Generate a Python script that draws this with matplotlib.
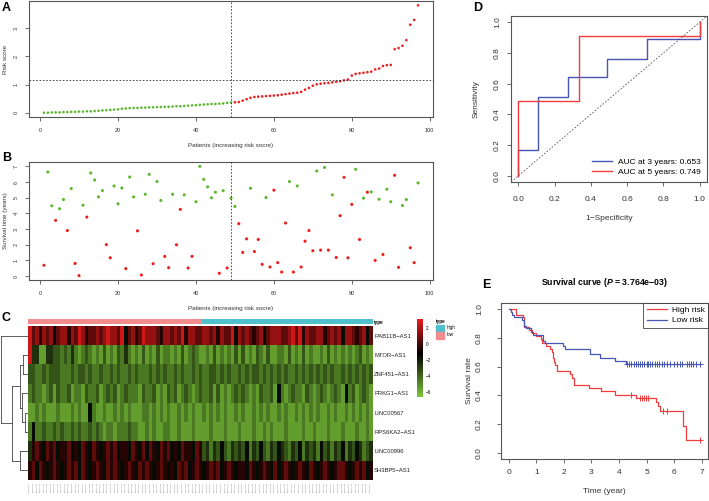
import numpy as np
import matplotlib
matplotlib.use('Agg')
import matplotlib.pyplot as plt
from matplotlib.colors import LinearSegmentedColormap, ListedColormap

plt.rcParams['font.family'] = ['Liberation Sans', 'DejaVu Sans']
plt.rcParams['mathtext.fontset'] = 'custom'
plt.rcParams['mathtext.rm'] = 'Liberation Sans'
plt.rcParams['mathtext.it'] = 'Liberation Sans:italic'
plt.rcParams['mathtext.bf'] = 'Liberation Sans:bold'
plt.rcParams['mathtext.bfit'] = 'Liberation Sans:bold:italic'

# ---- A: risk score (sorted) ----
risk_low = [0.00, 0.00, 0.01, 0.01, 0.01, 0.02, 0.02, 0.03, 0.03, 0.04,
            0.04, 0.05, 0.05, 0.06, 0.07, 0.08, 0.09, 0.10, 0.11, 0.12,
            0.14, 0.15, 0.16, 0.17, 0.17, 0.18, 0.18, 0.19, 0.19, 0.20,
            0.20, 0.21, 0.21, 0.22, 0.23, 0.23, 0.24, 0.25, 0.26, 0.27,
            0.28, 0.29, 0.30, 0.31, 0.31, 0.32, 0.33, 0.35, 0.36]
risk_high = [0.37, 0.38, 0.43, 0.48, 0.53, 0.56, 0.57, 0.58, 0.59, 0.60,
             0.61, 0.62, 0.64, 0.66, 0.68, 0.70, 0.71, 0.74, 0.82, 0.88,
             0.96, 1.01, 1.03, 1.05, 1.06, 1.08, 1.10, 1.12, 1.15, 1.18,
             1.32, 1.38, 1.40, 1.42, 1.44, 1.46, 1.54, 1.57, 1.66, 1.69,
             1.70, 2.26, 2.30, 2.38, 2.58, 3.13, 3.30, 3.82]
risk_hline = 1.15

# ---- B: survival time and status (1 = dead) ----
surv_time = [0.68, 6.64, 4.48, 3.55, 4.29, 4.88, 2.90, 5.58, 0.80, 0.02,
             4.52, 3.76, 6.58, 6.13, 5.05, 5.45, 2.00, 1.16, 5.75, 4.61,
             5.62, 0.47, 6.32, 5.05, 2.88, 0.06, 5.22, 6.49, 0.78, 6.03,
             4.82, 1.25, 0.53, 5.22, 1.99, 4.25, 5.18, 0.51, 1.25, 4.74,
             7.00, 6.17, 5.69, 4.99, 5.35, 0.17, 5.45, 0.51, 4.97, 4.44,
             3.34, 1.50, 2.37, 5.60, 1.56, 2.33, 0.74, 5.01, 0.57, 5.48,
             0.85, 0.25, 3.38, 6.03, 0.25, 5.75, 0.57, 2.22, 2.90, 1.61,
             6.70, 1.65, 6.93, 1.65, 5.18, 1.18, 3.85, 6.30, 1.16, 4.57,
             6.81, 2.33, 4.97, 5.35, 5.37, 0.99, 4.90, 1.37, 5.54, 4.74,
             6.43, 0.55, 4.50, 4.88, 1.80, 0.85, 5.94]
surv_status = [1, 0, 0, 1, 0, 0, 1, 0, 1, 1,
               0, 1, 0, 0, 0, 0, 1, 1, 0, 0,
               0, 1, 0, 0, 1, 1, 0, 0, 1, 0,
               0, 1, 1, 0, 1, 1, 0, 1, 1, 0,
               0, 0, 0, 0, 0, 1, 0, 1, 0, 0,
               1, 1, 1, 0, 1, 1, 1, 0, 1, 1,
               1, 1, 1, 0, 1, 0, 1, 1, 1, 1,
               0, 1, 0, 1, 0, 1, 1, 1, 1, 1,
               0, 1, 0, 1, 0, 1, 0, 1, 0, 0,
               1, 1, 0, 0, 1, 1, 0]

# ---- C: heatmap (digit d -> expression -6.5 + d) ----
genes = ['RAB11B−AS1', 'MTOR−AS1', 'ZNF451−AS1', 'PRKG1−AS1',
         'LINC00567', 'RPS6KA2−AS1', 'LINC00996', 'SH3BP5−AS1']
expr_rows = [
    '9786878578868798677878988795786798887688787968877887868779587876785788877897968778867878588767857',
    '9441144332324212321213121324212131213122121312321121312121313121321311221312131211213121212123121',
    '3322323332223233232232232322323222323232232322323223323232232323323232323223232323232322323232323',
    '2322123132231221322312323123222132231213231232123223131212323212132231521232213212321232152312321',
    '1121211121112121152112112121211122121212112121211212121211212112121211212112121212112121121212121',
    '2522322323223232232321221222322112121122112111211112111211121112112121112111121121112111211121121',
    '4676576756675657657656767566576575765767565766576342435324343524353243543243524342534243524354234',
    '6757656765676757656765767656765767656765657675676567675676566576567657567656765765676567765676756',
]
group = ['low'] * 49 + ['high'] * 48
# dendrogram merges (left id, right id, height); leaves 0-7, new nodes 8..
merges = [(1, 2, 4.7), (4, 5, 3.0), (3, 9, 6.3), (8, 10, 8.0),
          (6, 7, 8.0), (11, 12, 16.0), (0, 13, 27.0)]

# ---- D: ROC vertices ----
roc3_fp = [0.0, 0.0, 0.107, 0.107, 0.276, 0.276, 0.49, 0.49, 0.709, 0.709, 1.0, 1.0]
roc3_tp = [0.0, 0.17, 0.17, 0.514, 0.514, 0.644, 0.644, 0.76, 0.76, 0.888, 0.888, 1.0]
roc5_fp = [0.0, 0.0, 0.333, 0.333, 1.0, 1.0]
roc5_tp = [0.0, 0.486, 0.486, 0.907, 0.907, 1.0]

# ---- E: Kaplan-Meier steps ----
km_high_t = [0, 0.27, 0.52, 0.57, 0.74, 0.85, 0.99, 1.16, 1.22, 1.37, 1.50, 1.56, 1.61, 1.65,
             1.69, 1.75, 2.22, 2.30, 2.36, 2.90, 3.36, 3.85, 4.60, 5.33, 5.40, 5.48, 6.32, 6.42]
km_high_s = [1.0, 0.958, 0.94, 0.875, 0.854, 0.833, 0.81, 0.79, 0.76, 0.74, 0.72, 0.70, 0.66, 0.63,
             0.61, 0.57, 0.55, 0.52, 0.47, 0.45, 0.43, 0.40, 0.38, 0.355, 0.33, 0.29, 0.19, 0.095]
cens_high = [4.45, 4.75, 4.85, 4.92, 4.98, 5.05, 5.6, 5.75, 6.95]
km_low_t = [0, 0.07, 0.13, 0.2, 0.5, 0.57, 0.63, 0.82, 0.88, 1.24, 1.3, 1.97, 2.05, 2.95, 3.3, 3.85, 4.25]
km_low_s = [1.0, 0.98, 0.96, 0.94, 0.92, 0.88, 0.865, 0.84, 0.82, 0.78, 0.76, 0.74, 0.72, 0.69, 0.66, 0.64, 0.62]
cens_low = [4.3, 4.38, 4.45, 4.55, 4.62, 4.7, 4.78, 4.85, 4.92, 5.0, 5.05, 5.12, 5.2, 5.3, 5.38,
            5.45, 5.55, 5.65, 5.75, 5.85, 6.0, 6.1, 6.2, 6.3, 6.45, 6.55, 6.62, 6.7, 6.8, 6.95]

GREEN = '#5cb82e'
RED = '#ee1c1c'
W, H = 709, 501
fig = plt.figure(figsize=(W / 100, H / 100), dpi=100)


def px_axes(x0, y0, x1, y1):
    return fig.add_axes([x0 / W, 1 - y1 / H, (x1 - x0) / W, (y1 - y0) / H])


def r_style(ax, fs, xpad, ypad, tl=3.0):
    for s in ax.spines.values():
        s.set_color('#555555')
        s.set_linewidth(0.8)
    ax.tick_params(direction='out', length=tl, width=0.6, colors='#555555',
                   labelsize=fs, labelcolor='#333333')
    ax.tick_params(axis='x', pad=xpad)
    ax.tick_params(axis='y', pad=ypad)


# ---------- A ----------
risk = risk_low + risk_high
n = len(risk)
pid = np.arange(1, n + 1)
nlow = len(risk_low)
colors = [GREEN] * nlow + [RED] * (n - nlow)
axA = px_axes(29, 1, 433, 117)
axA.scatter(pid, risk, s=3.5, c=colors, linewidths=0)
axA.axvline(nlow, color='#333333', ls=(0, (2, 2)), lw=0.6)
axA.axhline(risk_hline, color='#333333', ls=(0, (2, 2)), lw=0.6)
axA.set_xlim(1 - 0.04 * (n - 1), n + 0.04 * (n - 1))
axA.set_ylim(-0.04 * max(risk), 1.04 * max(risk))
axA.set_xticks([0, 20, 40, 60, 80, 100])
axA.set_yticks([0, 1, 2, 3])
axA.set_yticklabels(['0', '1', '2', '3'], rotation=90, va='center')
r_style(axA, 4.0, 5, 4.5)
axA.set_xlabel('Patients (increasing risk socre)', fontsize=4.5, labelpad=7, color='#333333')
axA.set_ylabel('Risk score', fontsize=4.5, labelpad=4, color='#333333')

# ---------- B ----------
axB = px_axes(29, 162, 433, 280)
st = np.array(surv_status)
axB.scatter(pid, surv_time, s=5, c=[RED if v else GREEN for v in st], linewidths=0)
axB.axvline(nlow, color='#333333', ls=(0, (2, 2)), lw=0.6)
tmin, tmax = min(surv_time), max(surv_time)
pad = 0.04 * (tmax - tmin)
axB.set_xlim(1 - 0.04 * (n - 1), n + 0.04 * (n - 1))
axB.set_ylim(tmin - pad, tmax + pad)
axB.set_xticks([0, 20, 40, 60, 80, 100])
axB.set_yticks(range(8))
axB.set_yticklabels([str(i) for i in range(8)], rotation=90, va='center')
r_style(axB, 4.0, 5, 4.5)
axB.set_xlabel('Patients (increasing risk socre)', fontsize=4.5, labelpad=7, color='#333333')
axB.set_ylabel('Survival time (years)', fontsize=4.5, labelpad=4, color='#333333')

# ---------- C ----------
mat = np.array([[int(c) - 6.5 for c in row] for row in expr_rows])
vmin, vmax, vmid = -6.6, 3.1, -1.2
f = (vmid - vmin) / (vmax - vmin)
cmap = LinearSegmentedColormap.from_list('gbr', [(0, '#7cc63a'), (f, '#000000'), (1, '#ee1c1c')])
axC = px_axes(28, 326, 372, 480)
axC.imshow(mat, aspect='auto', cmap=cmap, vmin=vmin, vmax=vmax, interpolation='nearest')
axC.set_yticks(range(len(genes)))
axC.set_yticklabels(genes, fontsize=4.2, color='#222222')
axC.yaxis.tick_right()
axC.set_xticks(range(mat.shape[1]))
axC.set_xticklabels(['TCGA%03d' % (i + 1) for i in range(mat.shape[1])],
                    rotation=90, fontsize=1.6, color='#777777')
axC.tick_params(length=0, pad=1.5)
for s in axC.spines.values():
    s.set_visible(False)

axT = px_axes(28, 319, 372, 324.5)
gcode = np.array([[0 if g == 'low' else 1 for g in group]])
PINK, CYAN = '#f28c8c', '#4fc0cc'
axT.imshow(gcode, aspect='auto', cmap=ListedColormap([PINK, CYAN]), interpolation='nearest')
axT.set_xticks([])
axT.set_yticks([0])
axT.set_yticklabels(['type'], fontsize=3.3, fontweight='bold')
axT.yaxis.tick_right()
axT.tick_params(length=0, pad=1.5)
for s in axT.spines.values():
    s.set_visible(False)

# dendrogram
axD0 = px_axes(0, 326, 28, 480)
pos = {i: float(i) for i in range(len(genes))}
hgt = {i: 0.0 for i in range(len(genes))}
for k, (a, b, h) in enumerate(merges):
    node = len(genes) + k
    for c in (a, b):
        axD0.plot([hgt[c], h], [pos[c], pos[c]], color='#444444', lw=0.6)
    axD0.plot([h, h], [pos[a], pos[b]], color='#444444', lw=0.6)
    pos[node] = (pos[a] + pos[b]) / 2
    hgt[node] = h
axD0.set_ylim(len(genes) - 0.5, -0.5)
axD0.set_xlim(max(m[2] for m in merges) * 1.04, 0)
axD0.axis('off')

# colorbar
axCB = px_axes(417, 319, 423, 397)
grad = np.linspace(vmax, vmin, 200).reshape(-1, 1)
axCB.imshow(grad, aspect='auto', cmap=cmap, vmin=vmin, vmax=vmax,
            extent=[0, 1, vmin, vmax])
axCB.set_xticks([])
axCB.yaxis.tick_right()
axCB.set_yticks([2, 0, -2, -4, -6])
axCB.set_yticklabels(['2', '0', '−2', '−4', '−6'], fontsize=3.3)
axCB.tick_params(length=0, pad=2)
for s in axCB.spines.values():
    s.set_visible(False)

fig.text(436 / W, 1 - 321 / H, 'type', fontsize=3.3, fontweight='bold', va='center')
for i, (lab, colr) in enumerate([('high', CYAN), ('low', PINK)]):
    y0 = 324.5 + i * 7
    fig.patches.append(plt.Rectangle((436 / W, 1 - (y0 + 7) / H), 8 / W, 7 / H,
                                     color=colr, transform=fig.transFigure))
    fig.text(447 / W, 1 - (y0 + 3.5) / H, lab, fontsize=3.3, va='center')

# ---------- D ----------
ticks = [0.0, 0.2, 0.4, 0.6, 0.8, 1.0]
axDD = px_axes(511, 16, 707, 182)
axDD.plot(roc3_fp, roc3_tp, color='#4556b4', lw=1.0, label='AUC at 3 years: 0.653')
axDD.plot(roc5_fp, roc5_tp, color='#f03c3c', lw=1.0, label='AUC at 5 years: 0.749')
axDD.axline((0, 0), (1, 1), color='#555555', ls=(0, (2, 2)), lw=0.6)
axDD.set_xlim(-0.04, 1.04)
axDD.set_ylim(-0.04, 1.04)
axDD.set_xticks(ticks)
axDD.set_xticklabels(['%.1f' % t for t in ticks])
axDD.set_yticks(ticks)
axDD.set_yticklabels(['%.1f' % t for t in ticks], rotation=90, va='center')
r_style(axDD, 6.0, 7, 4.2)
axDD.set_xlabel('1−Specificity', fontsize=6.0, labelpad=8.5, color='#333333')
axDD.set_ylabel('Sensitivity', fontsize=6.0, labelpad=10, color='#333333')
axDD.legend(loc='lower right', frameon=False, fontsize=6.0, handlelength=2.4,
            handletextpad=0.8, borderaxespad=0.3, labelspacing=0.25)

# ---------- E ----------
axE = px_axes(501, 303, 708, 459)
tend = max(cens_low + cens_high)
for t, s, cens, colr, lab in [(km_high_t, km_high_s, cens_high, '#f03c3c', 'High risk'),
                              (km_low_t, km_low_s, cens_low, '#4556b4', 'Low risk')]:
    tt = np.append(t, tend)
    ss = np.append(s, s[-1])
    axE.step(tt, ss, where='post', color=colr, lw=0.9, label=lab)
    idx = np.searchsorted(t, cens, side='right') - 1
    axE.plot(cens, np.array(s)[idx], ls='none', marker='+', ms=4, mew=0.7, color=colr)
axE.set_xlim(-0.04 * tend, 1.04 * tend)
axE.set_ylim(-0.04, 1.04)
axE.set_xticks(range(8))
axE.set_yticks(ticks)
axE.set_yticklabels(['%.1f' % t for t in ticks], rotation=90, va='center')
r_style(axE, 6.0, 4.3, 10)
axE.set_xlabel('Time (year)', fontsize=6.0, labelpad=8.5, color='#333333')
axE.set_ylabel('Survival rate', fontsize=6.0, labelpad=2, color='#333333')
leg = axE.legend(loc='upper right', fontsize=6.0, handlelength=2.4, handletextpad=0.6,
                 borderaxespad=0, fancybox=False, edgecolor='#333333', labelspacing=0.3)
leg.get_frame().set_linewidth(0.7)
axE.set_title('Survival curve ($\\mathbfit{P}$ = 3.764e−03)', fontsize=6.3,
              fontweight='bold', pad=13)

for lab, x, y in [('A', 2, 8), ('B', 2, 158), ('C', 2, 318), ('D', 473, 8), ('E', 482, 285)]:
    fig.text(x / W, 1 - y / H, lab, fontsize=9, fontweight='bold', va='center')

fig.savefig('out.png', dpi=100)
